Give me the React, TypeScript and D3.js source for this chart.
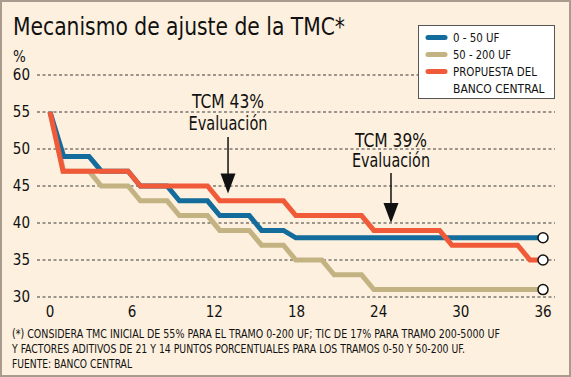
import React from "react";
import * as d3 from "d3";

// ---- data ----
const xTicks = [0, 6, 12, 18, 24, 30, 36];
const yTicks = [30, 35, 40, 45, 50, 55, 60];

// corner points [month, %]
const tramo0a50: [number, number][] = [
  [0, 55], [1, 49], [2.85, 49], [3.75, 47], [5.7, 47], [6.6, 45], [8.55, 45], [9.45, 43],
  [11.5, 43], [12.4, 41], [14.55, 41], [15.45, 39], [17.05, 39], [17.95, 38], [36, 38],
];
const tramo50a200: [number, number][] = [
  [0, 55], [1, 47], [2.85, 47], [3.75, 45], [5.7, 45], [6.6, 43], [8.55, 43], [9.45, 41],
  [11.5, 41], [12.4, 39], [14.55, 39], [15.45, 37], [17.05, 37], [17.95, 35], [19.85, 35],
  [20.75, 33], [22.75, 33], [23.65, 31], [36, 31],
];
const propuesta: [number, number][] = [
  [0, 55], [0.95, 47], [5.7, 47], [6.6, 45], [11.5, 45], [12.4, 43], [17.05, 43], [17.95, 41],
  [22.75, 41], [23.65, 39], [28.45, 39], [29.35, 37], [34.15, 37], [35.05, 35], [36, 35],
];

const seriesNames = ["0 - 50 UF", "50 - 200 UF", "PROPUESTA DEL|BANCO CENTRAL"];
const seriesData = [tramo0a50, tramo50a200, propuesta];
const seriesColors = ["#136c9c", "#c4b382", "#f05a38"];

const annMonths = [13, 24.9];
const annTips = [44, 40];
const annLabels = [["TCM 43%", "Evaluación"], ["TCM 39%", "Evaluación"]];

const title = "Mecanismo de ajuste de la TMC*";
const footnote = [
  "(*) CONSIDERA TMC INICIAL DE 55% PARA EL TRAMO 0-200 UF; TIC DE 17% PARA TRAMO 200-5000 UF",
  "Y FACTORES ADITIVOS DE 21 Y 14 PUNTOS PORCENTUALES PARA LOS TRAMOS 0-50 Y 50-200 UF.",
  "FUENTE: BANCO CENTRAL",
];

const W = 571;
const H = 377;
const FONT = "'DejaVu Sans Condensed', 'DejaVu Sans', sans-serif";

export default function App() {
  const x = d3.scaleLinear().domain([0, 36]).range([50, 543]);
  const y = d3.scaleLinear().domain([30, 60]).range([297, 75]);
  const line = d3
    .line<[number, number]>()
    .x((d) => x(d[0]))
    .y((d) => y(d[1]));

  const drawOrder = [1, 0, 2];
  const annText = [
    { l1: 108, l2: 130, top: 137, w1: 72, w2: 79 },
    { l1: 147, l2: 167, top: 173, w1: 72, w2: 78 },
  ];
  const legendWidths = [[46.5], [58], [84, 91.5]];
  const footWidths = [488, 453, 120];

  return (
    <svg
      width={W}
      height={H}
      style={{ position: "fixed", left: 0, top: 0, display: "block" }}
      fontFamily={FONT}
    >
      <rect x={1} y={1} width={W - 2} height={H - 2} fill="#fdf0de" stroke="#a99b8e" strokeWidth={2} />
      <text x={13} y={35} fontSize={25} fill="#111" textLength={332} lengthAdjust="spacingAndGlyphs">
        {title}
      </text>
      <text x={13} y={62} fontSize={15} fill="#111">%</text>

      {/* grid */}
      {yTicks.map((t) => (
        <g key={t}>
          <line x1={37} x2={555} y1={y(t)} y2={y(t)} stroke="#3a3a3a" strokeWidth={1} strokeDasharray="3,2.5" />
          <text x={30} y={y(t)} dy="0.36em" fontSize={15} textAnchor="end" fill="#111">
            {t}
          </text>
        </g>
      ))}
      {xTicks.map((t) => (
        <text key={t} x={x(t)} y={317} fontSize={15} textAnchor="middle" fill="#111">
          {t}
        </text>
      ))}

      {/* series */}
      {drawOrder.map((i) => (
        <path key={i} d={line(seriesData[i]) || ""} fill="none" stroke={seriesColors[i]} strokeWidth={5} />
      ))}
      {seriesData.map((s, i) => {
        const last = s[s.length - 1];
        return <circle key={i} cx={x(last[0])} cy={y(last[1])} r={5} fill="#fff" stroke="#111" strokeWidth={1.5} />;
      })}

      {/* annotations */}
      {annMonths.map((m, i) => {
        const ax = x(m);
        const tip = y(annTips[i]);
        const a = annText[i];
        return (
          <g key={i}>
            <text x={ax} y={a.l1} fontSize={19} textAnchor="middle" fill="#111" textLength={a.w1} lengthAdjust="spacingAndGlyphs">
              {annLabels[i][0]}
            </text>
            <text x={ax} y={a.l2} fontSize={19} textAnchor="middle" fill="#111" textLength={a.w2} lengthAdjust="spacingAndGlyphs">
              {annLabels[i][1]}
            </text>
            <line x1={ax} x2={ax} y1={a.top} y2={tip - 18} stroke="#111" strokeWidth={1.5} />
            <path d={`M${ax - 7.5},${tip - 20}L${ax + 7.5},${tip - 20}L${ax},${tip}Z`} fill="#111" />
          </g>
        );
      })}

      {/* legend */}
      <rect x={418.5} y={25.5} width={136} height={73} fill="#fff" stroke="#555" strokeWidth={1} />
      {seriesNames.map((n, i) => {
        const ly = [37.5, 54.5, 71.5][i];
        const parts = n.split("|");
        return (
          <g key={i}>
            <line x1={428} x2={445} y1={ly} y2={ly} stroke={seriesColors[i]} strokeWidth={5} strokeLinecap="round" />
            {parts.map((p, j) => (
              <text
                key={j}
                x={453}
                y={ly + 4.5 + j * 16.5}
                fontSize={12.5}
                fill="#111"
                textLength={legendWidths[i][j]}
                lengthAdjust="spacingAndGlyphs"
              >
                {p}
              </text>
            ))}
          </g>
        );
      })}

      {/* footnote */}
      {footnote.map((f, i) => (
        <text
          key={i}
          x={12}
          y={338 + i * 15}
          fontSize={11.5}
          fill="#111"
          textLength={footWidths[i]}
          lengthAdjust="spacingAndGlyphs"
        >
          {f}
        </text>
      ))}
    </svg>
  );
}
